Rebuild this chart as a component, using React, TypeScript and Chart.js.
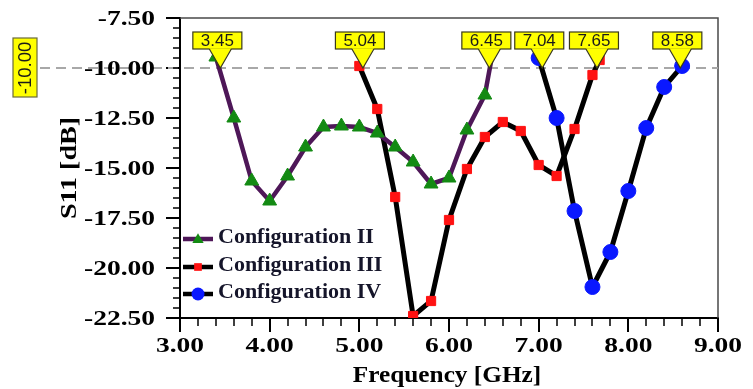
import React, { useEffect, useRef } from "react";
import { Chart, registerables } from "chart.js";

Chart.register(...registerables);

// ---------- data ----------
const seriesNames = ["Configuration II", "Configuration III", "Configuration IV"];

const freqII = [3.4, 3.6, 3.8, 4.0, 4.2, 4.4, 4.6, 4.8, 5.0, 5.2, 5.4, 5.6, 5.8, 6.0, 6.2, 6.4, 6.48];
const s11II = [-9.45, -12.5, -15.65, -16.65, -15.4, -13.95, -12.95, -12.9, -12.95, -13.25, -13.95, -14.7, -15.8, -15.5, -13.1, -11.35, -9.4];
const markII = [1, 1, 1, 1, 1, 1, 1, 1, 1, 1, 1, 1, 1, 1, 1, 1, 0];

const freqIII = [5.0, 5.2, 5.4, 5.6, 5.8, 6.0, 6.2, 6.4, 6.6, 6.8, 7.0, 7.2, 7.4, 7.6, 7.68];
const s11III = [-9.9, -12.05, -16.45, -22.4, -21.65, -17.6, -15.05, -13.45, -12.7, -13.15, -14.85, -15.4, -13.05, -10.35, -9.6];

const freqIV = [7.0, 7.2, 7.4, 7.6, 7.8, 8.0, 8.2, 8.4, 8.6];
const s11IV = [-9.5, -12.5, -17.15, -20.95, -19.2, -16.15, -13.0, -10.95, -9.9];

const refLevel = -10;
const refLabel = "-10.00";
const markerFreqs = [3.45, 5.04, 6.45, 7.04, 7.65, 8.58];
const markerLabels = ["3.45", "5.04", "6.45", "7.04", "7.65", "8.58"];

const xMin = 3, xMax = 9, xStep = 1, xMinor = 0.2;
const yMin = -22.5, yMax = -7.5, yStep = 2.5, yMinor = 0.5;
const xTitle = "Frequency [GHz]";
const yTitle = "S11 [dB]";

// ---------- styles ----------
const SERIF = "'Liberation Serif', 'Times New Roman', serif";
const SANS = "'Liberation Sans', Arial, sans-serif";
const PURPLE = "#4e1758";
const GREEN = "#138a13";
const RED = "#ff1212";
const BLUE = "#0a18ff";
const YELLOW = "#ffff00";

function stretchText(ctx: CanvasRenderingContext2D, text: string, x: number, y: number, sx: number, align: CanvasTextAlign, rot = 0) {
  ctx.save();
  ctx.translate(x, y);
  if (rot) ctx.rotate(rot);
  ctx.scale(sx, 1);
  ctx.textAlign = align;
  ctx.textBaseline = "middle";
  ctx.fillText(text, 0, 0);
  ctx.restore();
}

function drawMarker(ctx: CanvasRenderingContext2D, style: string, x: number, y: number, r: number, color: string) {
  ctx.save();
  ctx.fillStyle = color;
  ctx.beginPath();
  if (style === "triangle") {
    const h = r * 1.5;
    ctx.moveTo(x, y - h * 0.6);
    ctx.lineTo(x + r * 0.87, y + h * 0.4);
    ctx.lineTo(x - r * 0.87, y + h * 0.4);
    ctx.closePath();
  } else if (style === "rect") {
    ctx.rect(x - r * 0.7, y - r * 0.7, r * 1.4, r * 1.4);
  } else {
    ctx.arc(x, y, r, 0, Math.PI * 2);
  }
  ctx.fill();
  ctx.restore();
}

const decorPlugin = {
  id: "decor",
  beforeDatasetsDraw(chart: any) {
    const { ctx, chartArea, scales } = chart;
    const y = scales.y.getPixelForValue(refLevel);
    ctx.save();
    // frame top/right
    ctx.strokeStyle = "#4a4a4a";
    ctx.lineWidth = 1.5;
    ctx.beginPath();
    ctx.moveTo(chartArea.left, chartArea.top);
    ctx.lineTo(chartArea.right, chartArea.top);
    ctx.lineTo(chartArea.right, chartArea.bottom);
    ctx.stroke();
    // dashed reference line
    ctx.strokeStyle = "#a8a8a8";
    ctx.lineWidth = 2;
    ctx.setLineDash([10, 6]);
    ctx.beginPath();
    ctx.moveTo(40, y);
    ctx.lineTo(chartArea.right, y);
    ctx.stroke();
    ctx.restore();
  },
  afterDatasetsDraw(chart: any) {
    const { ctx, scales } = chart;
    const tipY = scales.y.getPixelForValue(refLevel);
    ctx.save();
    markerFreqs.forEach((f, i) => {
      const tipX = scales.x.getPixelForValue(f);
      const cx = tipX - 3;
      const bw = 49, bh = 17;
      const top = tipY - 36;
      const bottom = top + bh;
      ctx.fillStyle = YELLOW;
      ctx.strokeStyle = "#3a3a1a";
      ctx.lineWidth = 1.2;
      ctx.fillRect(cx - bw / 2, top, bw, bh);
      ctx.strokeRect(cx - bw / 2, top, bw, bh);
      ctx.beginPath();
      ctx.moveTo(tipX - 11, bottom - 0.8);
      ctx.lineTo(tipX, tipY);
      ctx.lineTo(tipX + 11, bottom - 0.8);
      ctx.closePath();
      ctx.fill();
      ctx.beginPath();
      ctx.moveTo(tipX - 11, bottom);
      ctx.lineTo(tipX, tipY);
      ctx.lineTo(tipX + 11, bottom);
      ctx.stroke();
      ctx.fillStyle = "#1a1a1a";
      ctx.font = `17px ${SANS}`;
      ctx.textAlign = "center";
      ctx.textBaseline = "middle";
      ctx.fillText(markerLabels[i], cx, top + bh / 2 + 1);
    });
    // left rotated reference label
    ctx.fillStyle = YELLOW;
    ctx.strokeStyle = "#6a6a3a";
    ctx.lineWidth = 1.2;
    ctx.fillRect(13, 38, 24, 59);
    ctx.strokeRect(13, 38, 24, 59);
    ctx.fillStyle = "#1a1a1a";
    ctx.font = `18px ${SANS}`;
    stretchText(ctx, refLabel, 26, 68, 1.03, "center", -Math.PI / 2);
    ctx.restore();
  },
  afterDraw(chart: any) {
    const { ctx, chartArea, scales } = chart;
    const xs = scales.x, ys = scales.y;
    ctx.save();
    // minor ticks
    ctx.strokeStyle = "#000";
    ctx.lineWidth = 1.5;
    ctx.beginPath();
    for (let v = xMin; v <= xMax + 1e-9; v += xMinor) {
      const px = Math.round(xs.getPixelForValue(v));
      ctx.moveTo(px, chartArea.bottom);
      ctx.lineTo(px, chartArea.bottom + 8);
    }
    for (let v = yMin; v <= yMax + 1e-9; v += yMinor) {
      const py = Math.round(ys.getPixelForValue(v));
      ctx.moveTo(chartArea.left, py);
      ctx.lineTo(chartArea.left - 7, py);
    }
    ctx.stroke();
    // tick labels
    ctx.fillStyle = "#000";
    ctx.font = `bold 22px ${SERIF}`;
    ys.ticks.forEach((t: any) => {
      stretchText(ctx, t.value.toFixed(2), 155, ys.getPixelForValue(t.value) + 1, 1.25, "right");
    });
    xs.ticks.forEach((t: any) => {
      stretchText(ctx, t.value.toFixed(2), xs.getPixelForValue(t.value), 346, 1.25, "center");
    });
    // titles
    ctx.font = `bold 23px ${SERIF}`;
    stretchText(ctx, yTitle, 70, (chartArea.top + chartArea.bottom) / 2, 1.22, "center", -Math.PI / 2);
    ctx.font = `bold 23px ${SERIF}`;
    stretchText(ctx, xTitle, (chartArea.left + chartArea.right) / 2 - 2, 376, 1.1, "center");
    // legend
    const rows = [239, 267, 294];
    const styles = ["triangle", "rect", "circle"];
    const radii = [6.5, 5.5, 6.5];
    chart.data.datasets.forEach((ds: any, i: number) => {
      const y = rows[i];
      ctx.strokeStyle = ds.borderColor;
      ctx.lineWidth = 4.5;
      ctx.beginPath();
      ctx.moveTo(183, y);
      ctx.lineTo(213, y);
      ctx.stroke();
      drawMarker(ctx, styles[i], 198, y, radii[i], ds.pointBackgroundColor);
      ctx.fillStyle = "#15152a";
      ctx.font = `bold 22px ${SERIF}`;
      ctx.textAlign = "left";
      ctx.textBaseline = "middle";
      ctx.fillText(seriesNames[i], 218, y - 2);
    });
    ctx.restore();
  },
};

export default function App() {
  const ref = useRef<HTMLCanvasElement | null>(null);
  useEffect(() => {
    document.body.style.margin = "0";
    const canvas = ref.current!;
    const axisGrid = {
      display: true,
      drawOnChartArea: false,
      drawTicks: true,
      tickLength: 14,
      color: "#000",
      lineWidth: 2,
    };
    const chart = new Chart(canvas, {
      type: "line",
      data: {
        datasets: [
          {
            label: seriesNames[0],
            data: freqII.map((x, i) => ({ x, y: s11II[i] })),
            borderColor: PURPLE,
            borderWidth: 4.5,
            pointStyle: "triangle",
            pointRadius: markII.map((m) => (m ? 8 : 0)),
            pointBackgroundColor: GREEN,
            pointBorderColor: GREEN,
            pointBorderWidth: 1,
            tension: 0,
          },
          {
            label: seriesNames[1],
            data: freqIII.map((x, i) => ({ x, y: s11III[i] })),
            borderColor: "#000",
            borderWidth: 5,
            pointStyle: "rect",
            pointRadius: 6.5,
            pointBackgroundColor: RED,
            pointBorderColor: RED,
            pointBorderWidth: 1,
            tension: 0,
          },
          {
            label: seriesNames[2],
            data: freqIV.map((x, i) => ({ x, y: s11IV[i] })),
            borderColor: "#000",
            borderWidth: 5,
            pointStyle: "circle",
            pointRadius: 7.5,
            pointBackgroundColor: BLUE,
            pointBorderColor: BLUE,
            pointBorderWidth: 1,
            tension: 0,
          },
        ],
      } as any,
      options: {
        responsive: false,
        animation: false,
        layout: { padding: { left: 0, right: 35, top: 18, bottom: 0 } },
        plugins: { legend: { display: false }, tooltip: { enabled: false } },
        scales: {
          x: {
            type: "linear",
            min: xMin,
            max: xMax,
            ticks: { stepSize: xStep, display: false },
            grid: axisGrid,
            border: { display: true, color: "#000", width: 2 },
            afterFit: (s: any) => {
              s.height = 71;
            },
          },
          y: {
            type: "linear",
            min: yMin,
            max: yMax,
            ticks: { stepSize: yStep, display: false },
            grid: axisGrid,
            border: { display: true, color: "#000", width: 2 },
            afterFit: (s: any) => {
              s.width = 180;
            },
          },
        },
      } as any,
      plugins: [decorPlugin],
    });
    return () => chart.destroy();
  }, []);
  return (
    <div style={{ position: "fixed", left: 0, top: 0, width: 753, height: 389, background: "#fff" }}>
      <canvas ref={ref} width={753} height={389} style={{ display: "block" }} />
    </div>
  );
}
